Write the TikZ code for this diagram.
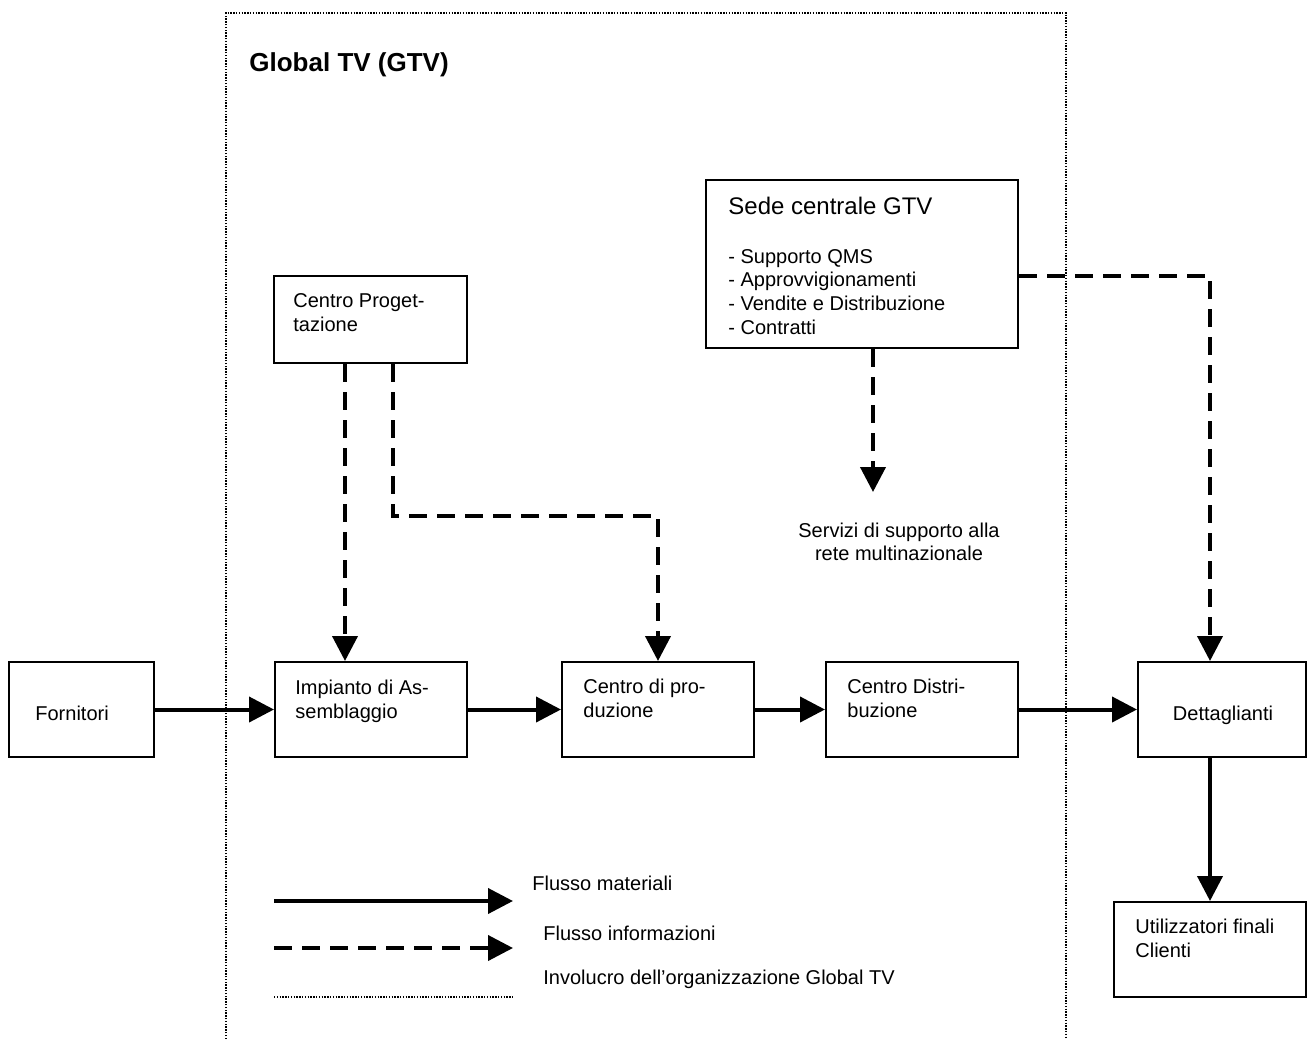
\documentclass[tikz,border=0pt]{standalone}
\usepackage{fontspec}
\setmainfont{Liberation Sans}
\usetikzlibrary{arrows.meta, positioning}

\begin{document}
\begin{tikzpicture}[x=0.5pt, y=-0.5pt]
	\tikzstyle{blk}=[rectangle, draw=black, line width=1pt, inner sep=0pt]
\tikzstyle{txt}=[inner sep=0pt, align=left, font=\fontsize{10}{11.8}\selectfont]
\tikzstyle{connect}=[-{Triangle[length=12.5pt, width=12.5pt]}, line width=2pt]
\tikzstyle{info}=[connect, dash pattern=on 9pt off 5pt]
\tikzstyle{env}=[line width=0.8pt, dash pattern=on 0.7pt off 0.7pt]
\useasboundingbox (0,0) rectangle (1307,1039);
% involucro
\draw[env] (226,1039) -- (226,13) -- (1066,13) -- (1066,1039);
\node[txt, anchor=base west, font=\fontsize{13}{15}\selectfont\bfseries] (gtv) at (249,71) {Global TV (GTV)};
% blocchi
\node[blk, minimum width=72.5pt, minimum height=47.5pt] (forn) at (81.5,709.5) {};
\node[blk, minimum width=96pt, minimum height=47.5pt] (imp) at (371,709.5) {};
\node[blk, minimum width=96pt, minimum height=47.5pt] (prod) at (658,709.5) {};
\node[blk, minimum width=96pt, minimum height=47.5pt] (dist) at (922,709.5) {};
\node[blk, minimum width=84pt, minimum height=47.5pt] (det) at (1222,709.5) {};
\node[blk, minimum width=96pt, minimum height=47.5pt] (utl) at (1210,949.5) {};
\node[blk, minimum width=96.5pt, minimum height=43.5pt] (prog) at (370.5,319.5) {};
\node[blk, minimum width=156pt, minimum height=84pt] (sede) at (862,264) {};
% testi
\node[txt, anchor=base west] (fornt) at (35,720) {Fornitori};
\node[txt, anchor=north west] (impt) at (295,679.6) {Impianto di As-\\semblaggio};
\node[txt, anchor=north west] (prodt) at (583,678.6) {Centro di pro-\\duzione};
\node[txt, anchor=north west] (distt) at (847,679) {Centro Distri-\\buzione};
\node[txt, anchor=base] (dett) at (1223,720) {Dettaglianti};
\node[txt, anchor=north west] (utlt) at (1135,918.6) {Utilizzatori finali\\Clienti};
\node[txt, anchor=north west] (progt) at (293,293.6) {Centro Proget-\\tazione};
\node[txt, anchor=north west] (sedet) at (728,196.8) {{\fontsize{12}{14}\selectfont Sede centrale GTV}\\[12.55pt]- Supporto QMS\\- Approvvigionamenti\\- Vendite e Distribuzione\\- Contratti};
\node[txt, align=center, anchor=north] (serv) at (899,522.3) {Servizi di supporto alla\\rete multinazionale};
\coordinate (bend) at (393,516);
\coordinate (servin) at (873,492);
\path (forn) edge [connect] (imp)
      (imp) edge [connect] (prod)
      (prod) edge [connect] (dist)
      (dist) edge [connect] (det)
      ([xshift=-6pt]det.south) edge [connect] (utl.north);
\draw[info] ([xshift=-12.75pt]prog.south) -- ([xshift=-13pt]imp.north);
\draw[info] ([xshift=11.25pt]prog.south) -- (bend) -| (prod.north);
\draw[info] ([xshift=5.5pt]sede.south) -- (servin);
\draw[info] ([yshift=-6pt]sede.east) -| ([xshift=-6pt]det.north);
% legenda
\coordinate (ls1) at (274,901);
\coordinate (le1) at (513,901);
\coordinate (ls2) at (274,948);
\coordinate (le2) at (513,948);
\coordinate (ls3) at (274,997);
\coordinate (le3) at (513,997);
\draw[connect] (ls1) -- (le1);
\draw[info] (ls2) -- (le2);
\draw[env] (ls3) -- (le3);
\node[txt, anchor=base west] (leg1) at (532,890) {Flusso materiali};
\node[txt, anchor=base west] (leg2) at (543,940) {Flusso informazioni};
\node[txt, anchor=base west] (leg3) at (543,984) {Involucro dell’organizzazione Global TV};
\end{tikzpicture}
\end{document}
